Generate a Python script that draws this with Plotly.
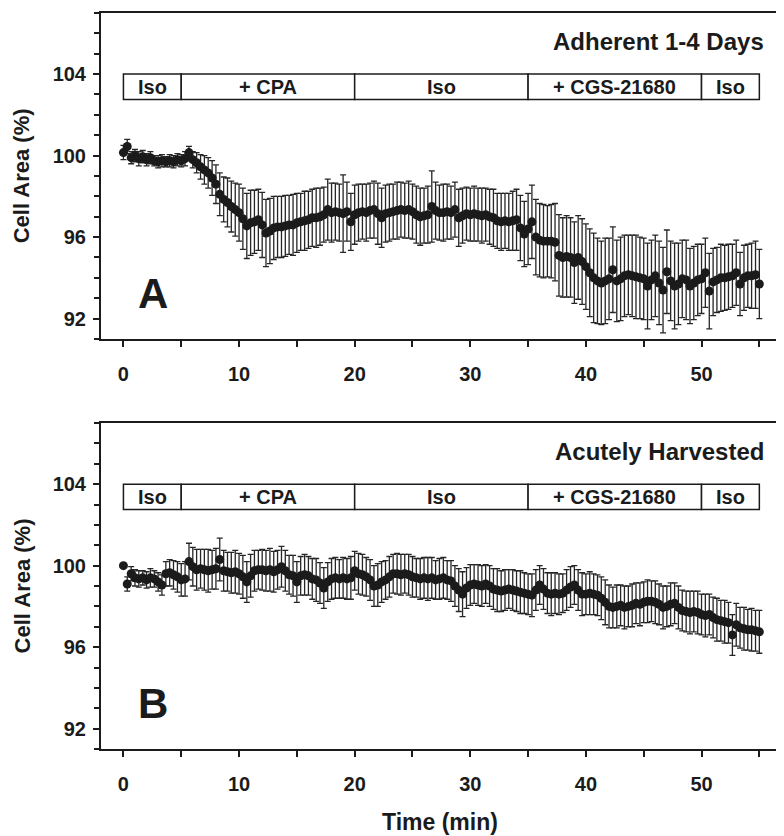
import plotly.graph_objs as go

# sampling times (min), one reading every 20 s
time_min = [
    0, 0.33, 0.67, 1, 1.33, 1.67, 2, 2.33, 2.67, 3, 3.33, 3.67, 4, 4.33, 4.67,
    5, 5.33, 5.67, 6, 6.33, 6.67, 7, 7.33, 7.67, 8, 8.33, 8.67, 9, 9.33, 9.67,
    10, 10.33, 10.67, 11, 11.33, 11.67, 12, 12.33, 12.67, 13, 13.33, 13.67, 14, 14.33, 14.67,
    15, 15.33, 15.67, 16, 16.33, 16.67, 17, 17.33, 17.67, 18, 18.33, 18.67, 19, 19.33, 19.67,
    20, 20.33, 20.67, 21, 21.33, 21.67, 22, 22.33, 22.67, 23, 23.33, 23.67, 24, 24.33, 24.67,
    25, 25.33, 25.67, 26, 26.33, 26.67, 27, 27.33, 27.67, 28, 28.33, 28.67, 29, 29.33, 29.67,
    30, 30.33, 30.67, 31, 31.33, 31.67, 32, 32.33, 32.67, 33, 33.33, 33.67, 34, 34.33, 34.67,
    35, 35.33, 35.67, 36, 36.33, 36.67, 37, 37.33, 37.67, 38, 38.33, 38.67, 39, 39.33, 39.67,
    40, 40.33, 40.67, 41, 41.33, 41.67, 42, 42.33, 42.67, 43, 43.33, 43.67, 44, 44.33, 44.67,
    45, 45.33, 45.67, 46, 46.33, 46.67, 47, 47.33, 47.67, 48, 48.33, 48.67, 49, 49.33, 49.67,
    50, 50.33, 50.67, 51, 51.33, 51.67, 52, 52.33, 52.67, 53, 53.33, 53.67, 54, 54.33, 54.67,
    55,
]

# panel A: cells adherent 1-4 days
area_adherent = [
    100.15, 100.45, 99.9, 100.0, 99.85, 99.95, 99.8, 99.9, 99.75, 99.7, 99.75, 99.7, 99.75, 99.7, 99.8,
    99.75, 99.85, 100.15, 99.8, 99.65, 99.45, 99.3, 99.15, 98.9, 98.6, 98.1, 97.85, 97.7, 97.5, 97.35,
    97.2, 96.9, 96.55, 96.7, 96.75, 96.85, 96.6, 96.2, 96.3, 96.45, 96.5, 96.5, 96.55, 96.6, 96.6,
    96.7, 96.75, 96.8, 96.85, 96.95, 96.95, 97.0, 97.1, 97.35, 97.2, 97.25, 97.2, 97.15, 97.25, 96.75,
    97.1, 97.2, 97.25, 97.2, 97.3, 97.35, 97.15, 96.95, 97.15, 97.2, 97.25, 97.3, 97.35, 97.3, 97.35,
    97.25, 97.1, 97.0, 97.05, 97.1, 97.5, 97.3, 97.2, 97.2, 97.25, 97.2, 97.35, 96.95, 97.05, 97.15,
    97.1, 97.15, 97.1, 97.05, 97.1, 97.0, 96.95, 96.8, 96.75, 96.8, 96.75, 96.8, 96.85, 96.45, 96.15,
    96.4, 96.75, 96.0, 95.85, 95.8, 95.8, 95.8, 95.75, 95.1, 95.0, 95.05, 95.0, 94.75, 95.0, 94.8,
    94.55, 94.25, 94.0, 93.85, 93.75, 93.85, 93.95, 94.4, 93.85, 93.95, 94.1, 94.15, 94.1, 94.05, 94.0,
    93.95, 93.6, 93.9, 94.1, 93.75, 93.4, 94.3, 93.85, 93.6, 93.7, 93.95, 93.9, 93.6, 93.75, 93.9,
    93.95, 94.25, 93.35, 93.8, 93.9, 94.0, 94.0, 94.05, 94.1, 94.25, 93.7, 94.0, 94.1, 94.1, 94.15,
    93.7,
]
sem_adherent = [
    0.35, 0.35, 0.3, 0.3, 0.35, 0.3, 0.3, 0.3, 0.25, 0.3, 0.3, 0.25, 0.3, 0.3, 0.3,
    0.3, 0.35, 0.3, 0.4, 0.5, 0.6, 0.7, 0.75, 0.85, 0.95, 1.05, 1.1, 1.2, 1.25, 1.3,
    1.4, 1.5, 1.6, 1.6, 1.55, 1.5, 1.6, 1.65, 1.6, 1.55, 1.5, 1.5, 1.5, 1.45, 1.5,
    1.45, 1.4, 1.45, 1.4, 1.4, 1.45, 1.4, 1.35, 1.5, 1.45, 1.4, 1.4, 1.9, 1.45, 1.4,
    1.45, 1.4, 1.35, 1.4, 1.35, 1.4, 1.5, 1.45, 1.4, 1.4, 1.35, 1.4, 1.35, 1.35, 1.4,
    1.35, 1.4, 1.4, 1.35, 1.4, 1.75, 1.4, 1.35, 1.4, 1.35, 1.3, 1.35, 1.4, 1.35, 1.3,
    1.3, 1.35, 1.3, 1.35, 1.3, 1.35, 1.4, 1.35, 1.4, 1.35, 1.4, 1.45, 1.5, 1.6, 1.6,
    1.75, 1.8, 1.85, 1.8, 1.8, 1.75, 1.8, 1.9, 2.0, 1.95, 2.0, 1.95, 2.0, 2.05, 2.1,
    2.1, 2.15, 2.2, 2.1, 2.05, 2.1, 2.0, 2.1, 2.0, 2.05, 2.0, 1.95, 2.0, 2.05, 2.0,
    2.0, 2.1, 1.95, 2.0, 2.05, 2.1, 2.05, 1.95, 2.1, 2.0, 1.9, 1.95, 1.85, 1.8, 1.75,
    1.7, 1.7, 1.85, 1.65, 1.6, 1.65, 1.6, 1.6, 1.55, 1.6, 1.55, 1.6, 1.55, 1.6, 1.65,
    1.7,
]

# panel B: acutely harvested cells
area_acute = [
    100.0, 99.1, 99.6, 99.4, 99.35, 99.4, 99.3, 99.4, 99.35, 99.2, 99.05, 99.6, 99.65, 99.55, 99.45,
    99.3, 99.35, 100.2, 99.95, 99.8, 99.85, 99.8, 99.75, 99.8, 99.85, 100.3, 99.75, 99.7, 99.65, 99.7,
    99.6, 99.45, 99.2, 99.5, 99.75, 99.8, 99.8, 99.75, 99.8, 99.7, 99.8, 99.95, 99.75, 99.55, 99.5,
    99.2, 99.5, 99.55, 99.5, 99.35, 99.3, 99.15, 98.9, 99.2, 99.35, 99.4, 99.35, 99.4, 99.35, 99.4,
    99.75, 99.6, 99.55, 99.45, 99.3, 99.0, 99.05, 99.2, 99.3, 99.45, 99.6, 99.6, 99.55, 99.6, 99.55,
    99.45, 99.4, 99.35, 99.4, 99.35, 99.4, 99.3, 99.35, 99.4, 99.3, 99.25, 99.0, 98.8, 98.6, 98.9,
    99.05, 99.1, 99.05, 99.0, 99.1, 99.0, 98.85, 98.8, 98.75, 98.8, 98.85, 98.8, 98.75, 98.7, 98.65,
    98.6, 98.55, 98.8, 99.05, 98.85, 98.65, 98.6, 98.65, 98.6, 98.65, 98.8, 98.95, 99.05, 98.8, 98.6,
    98.6, 98.65, 98.6, 98.55, 98.4, 98.2, 98.0, 97.95, 98.0, 98.05, 97.95, 98.0, 98.05, 98.15, 98.1,
    98.2, 98.25, 98.25, 98.2, 98.1, 97.95, 98.0, 98.1, 98.15, 97.95, 97.8, 97.75, 97.7, 97.75, 97.7,
    97.6, 97.55, 97.6, 97.45, 97.35, 97.3, 97.25, 97.2, 96.6, 97.1, 96.95, 96.9, 96.85, 96.85, 96.8,
    96.75,
]
sem_acute = [
    0.0, 0.35, 0.35, 0.4, 0.4, 0.35, 0.4, 0.45, 0.4, 0.45, 0.5, 0.6, 0.65, 0.7, 0.75,
    0.8, 0.85, 0.9, 0.95, 1.0, 0.95, 1.0, 1.05, 0.95, 1.0, 1.05, 1.0, 0.95, 1.0, 1.05,
    1.0, 1.05, 1.0, 1.05, 1.0, 0.95, 1.0, 1.0, 1.05, 1.0, 0.95, 1.0, 1.0, 0.95, 1.0,
    1.0, 0.95, 1.0, 0.95, 1.0, 1.05, 1.0, 1.0, 0.95, 1.0, 1.0, 0.95, 1.0, 1.0, 1.05,
    0.95, 1.0, 1.0, 0.95, 1.0, 1.0, 1.05, 1.0, 0.95, 1.0, 0.95, 1.0, 1.0, 0.95, 1.0,
    1.0, 0.95, 1.0, 1.0, 1.05, 1.0, 0.95, 1.0, 1.0, 0.95, 1.0, 1.0, 1.05, 1.1, 1.0,
    1.0, 0.95, 1.0, 1.0, 0.95, 1.0, 1.0, 1.05, 1.0, 1.0, 0.95, 1.0, 1.0, 1.05, 1.0,
    1.0, 1.05, 1.0, 0.95, 1.0, 1.0, 1.05, 1.0, 1.0, 0.95, 1.0, 1.0, 0.95, 1.0, 1.05,
    1.0, 1.05, 1.0, 1.0, 1.05, 1.1, 1.05, 1.0, 1.05, 1.0, 1.05, 1.0, 1.05, 1.0, 1.05,
    1.0, 1.05, 1.0, 1.05, 1.0, 1.05, 1.0, 1.05, 1.0, 1.05, 1.0, 1.0, 1.05, 1.0, 1.05,
    1.0, 1.05, 1.0, 1.0, 1.05, 1.0, 1.05, 1.0, 1.0, 1.05, 1.0, 1.05, 1.0, 1.05, 1.0,
    1.05,
]

# perfusion protocol (min)
phase_labels = ['Iso', '+ CPA', 'Iso', '+ CGS-21680', 'Iso']
phase_start = [0, 5, 20, 35, 50]
phase_end = [5, 20, 35, 50, 55]

panel_titles = ['Adherent 1-4 Days', 'Acutely Harvested']
panel_letters = ['A', 'B']

INK = '#1b1b1b'
FONT = 'Liberation Sans, Arial, sans-serif'


def data_trace(y, err, n):
    return go.Scatter(
        x=time_min, y=y, mode='markers',
        xaxis='x' + n, yaxis='y' + n,
        marker=dict(size=9, color=INK),
        error_y=dict(type='data', array=err, visible=True, color='#262626',
                     thickness=1.3, width=3),
        showlegend=False, hoverinfo='x+y',
    )


def x_axis(anchor):
    return dict(
        anchor=anchor, domain=[0, 1], range=[-1.94, 56.7],
        showline=True, linewidth=2, linecolor=INK, mirror=True,
        showgrid=False, zeroline=False,
        tick0=0, dtick=10, ticks='outside', ticklen=6, tickwidth=2, tickcolor=INK,
        minor=dict(dtick=5, ticks='outside', ticklen=6, tickwidth=2, tickcolor=INK),
        tickfont=dict(family=FONT, size=20, color=INK, weight='bold'),
        ticklabelstandoff=10,
    )


def y_axis(anchor, domain, mirror):
    return dict(
        anchor=anchor, domain=domain, range=[91, 107],
        showline=True, linewidth=2, linecolor=INK, mirror=mirror,
        showgrid=False, zeroline=False,
        tick0=92, dtick=4, ticks='outside', ticklen=6, tickwidth=2, tickcolor=INK,
        minor=dict(dtick=1, ticks='outside', ticklen=5, tickwidth=2, tickcolor=INK),
        tickfont=dict(family=FONT, size=20, color=INK, weight='bold'),
        ticklabelstandoff=3,
    )


fig = go.Figure(data=[
    data_trace(area_adherent, sem_adherent, ''),
    data_trace(area_acute, sem_acute, '2'),
])

shapes = []
annotations = []
for n, title, letter in zip(['', '2'], panel_titles, panel_letters):
    for label, t0, t1 in zip(phase_labels, phase_start, phase_end):
        shapes.append(dict(type='rect', xref='x' + n, yref='y' + n,
                           x0=t0, x1=t1, y0=102.75, y1=104,
                           line=dict(color=INK, width=1.5), fillcolor='white', layer='above'))
        annotations.append(dict(xref='x' + n, yref='y' + n, x=(t0 + t1) / 2, y=103.37,
                                text=label, showarrow=False,
                                font=dict(family=FONT, size=20, color=INK, weight='bold')))
    annotations.append(dict(xref='x' + n, yref='y' + n, x=55.6, y=105.6, xanchor='right',
                            text=title, showarrow=False,
                            font=dict(family=FONT, size=24, color=INK, weight='bold')))
    annotations.append(dict(xref='x' + n, yref='y' + n, x=2.6, y=93.25,
                            text=letter, showarrow=False,
                            font=dict(family=FONT, size=42, color=INK, weight='bold')))

for yc in [0.7786, 0.2214]:
    annotations.append(dict(xref='paper', yref='paper', x=-0.116, y=yc,
                            xanchor='center', yanchor='middle',
                            text='Cell Area (%)', textangle=-90, showarrow=False,
                            font=dict(family=FONT, size=22, color=INK, weight='bold')))
annotations.append(dict(xref='paper', yref='paper', x=0.5, y=-0.099,
                        xanchor='center', yanchor='middle',
                        text='Time (min)', showarrow=False,
                        font=dict(family=FONT, size=23, color=INK, weight='bold')))

# the page body keeps an 8 px margin, so the figure is 8 px smaller than the window
fig.update_layout(
    width=776, height=828,
    margin=dict(l=93, r=3, t=5, b=87),
    paper_bgcolor='white', plot_bgcolor='white',
    xaxis=x_axis('y'),
    yaxis=y_axis('x', [0.5571, 1.0], False),
    xaxis2=x_axis('y2'),
    yaxis2=y_axis('x2', [0.0, 0.4429], True),
    shapes=shapes,
    annotations=annotations,
    showlegend=False,
)

fig.write_html('out.html')
